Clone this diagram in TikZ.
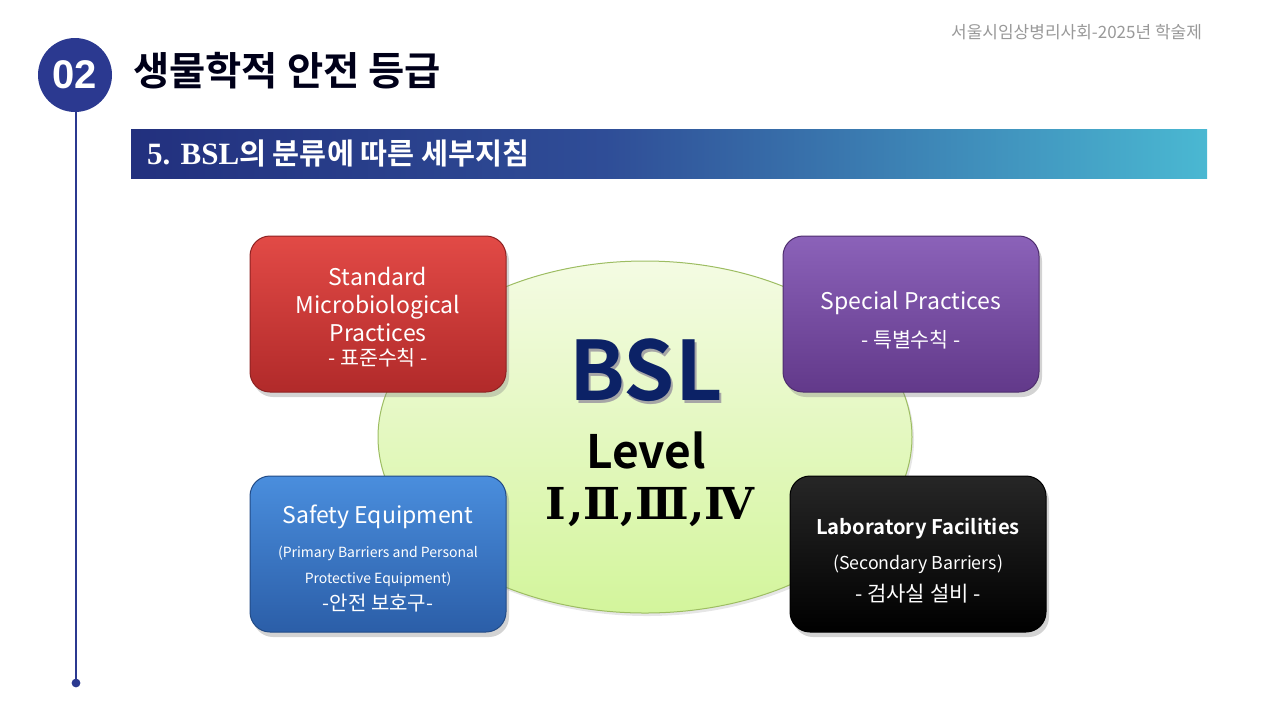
\documentclass[tikz,border=0pt]{standalone}
\usepackage{fontspec}
\setmainfont{Noto Sans CJK KR}[BoldFont={Noto Sans CJK KR Bold}]
\newfontfamily\serifbold{Liberation Serif}[BoldFont={Liberation Serif Bold}]
\newfontfamily\arialfont{Liberation Sans}[BoldFont={Liberation Sans Bold}]
\newfontfamily\romanfont{DejaVu Serif}[BoldFont={DejaVu Serif Bold}]
\usetikzlibrary{shapes.geometric,shadows,positioning}

\definecolor{navy}{HTML}{2B3990}
\definecolor{bandL}{HTML}{22307E}
\definecolor{bandM}{HTML}{2F4D97}
\definecolor{bandR}{HTML}{4AB8D2}
\definecolor{bslblue}{HTML}{0C2266}
\definecolor{redtop}{HTML}{E24A46}
\definecolor{redbot}{HTML}{B12A2A}
\definecolor{viotop}{HTML}{8B62B9}
\definecolor{viobot}{HTML}{62398A}
\definecolor{blutop}{HTML}{4A8EDD}
\definecolor{blubot}{HTML}{2B5EA8}
\definecolor{elltop}{HTML}{F4FBE3}
\definecolor{ellbot}{HTML}{D3F59C}
\definecolor{ellline}{HTML}{9DBD62}
\pgfdeclarehorizontalshading{bandshade}{100bp}{color(0bp)=(bandL); color(25bp)=(bandL);
  color(47bp)=(bandM); color(75bp)=(bandR); color(100bp)=(bandR)}

\newcommand\cardsub{\fontsize{10.3}{12}\selectfont}
\newcommand\cardtiny{\fontsize{7}{10}\selectfont}

\begin{document}
\begin{tikzpicture}[x=0.5pt,y=-0.5pt,
  card/.style={rectangle,rounded corners=10pt,minimum width=128pt,minimum height=78pt,
               line width=.5pt,drop shadow={shadow xshift=1.5pt,shadow yshift=-2.5pt,opacity=.35}},
  cardtext/.style={text=white,align=center,font=\fontsize{11.5}{14}\selectfont},
  redcard/.style={card,draw=redbot!80!black,top color=redtop,bottom color=redbot},
  violetcard/.style={card,draw=viobot!80!black,top color=viotop,bottom color=viobot},
  bluecard/.style={card,draw=blubot!80!black,top color=blutop,bottom color=blubot},
  blackcard/.style={card,draw=black,top color=black!85,bottom color=black}
]
  \useasboundingbox (0,0) rectangle (1280,720);

  % header
  \draw[navy,line width=.8pt] (76,100) -- (76,683);
  \fill[navy] (76,683) circle (2.2pt);
  \node[circle,fill=navy,minimum size=37pt,inner sep=0pt,text=white,
        font=\arialfont\bfseries\fontsize{20}{20}\selectfont] (num) at (75,75) {02};
  \node[anchor=west,font=\bfseries\fontsize{19.7}{22}\selectfont,text=black!90!blue]
        (title) at (126,71) {생물학적 안전 등급};
  \node[anchor=east,text=black!40,font=\fontsize{8.5}{10}\selectfont] (event) at (1209,32)
        {서울시임상병리사회-2025년 학술제};

  % sub title band
  \node[rectangle,minimum width=538pt,minimum height=24.5pt,inner sep=0pt,
        shading=bandshade] (band) at (669,153.5) {};
  \node[anchor=west,text=white,font=\bfseries\fontsize{14.7}{16}\selectfont] (subtitle) at (140,153)
        {{\serifbold\bfseries\fontsize{15.5}{16}\selectfont 5. BSL}의 분류에 따른 세부지침};

  % center ellipse
  \node[ellipse,minimum width=267pt,minimum height=176pt,draw=ellline,line width=.5pt,
        top color=elltop,bottom color=ellbot,
        drop shadow={shadow xshift=1pt,shadow yshift=-1.5pt,opacity=.2}] (core) at (645,437) {};
  \node[text=black!35,font=\bfseries\fontsize{41}{41}\selectfont] (bshadow) at (648,373) {BSL};
  \node[text=bslblue,font=\bfseries\fontsize{41}{41}\selectfont] (bsl) at (646,370) {BSL};
  \node[font=\bfseries\fontsize{23}{23}\selectfont] (level) at (646,450) {Level};
  \node[font=\romanfont\bfseries\fontsize{22}{22}\selectfont] (roman) at (650,507)
        {Ⅰ\kern1pt,Ⅱ,Ⅲ,Ⅳ};

  % cards
  \node[redcard] (standard) at (378,314) {};
  \node[violetcard] (special) at (911,314) {};
  \node[bluecard] (safety) at (378,554) {};
  \node[blackcard] (facility) at (918,554) {};

  \node[cardtext] (standardtxt) at ([yshift=-1.5pt]standard.center)
        {Standard\\Microbiological\\Practices\\[-2pt] \cardsub - 표준수칙 -};
  \node[cardtext] (specialtxt) at ([yshift=-3pt]special.center)
        {Special Practices\\[5pt] \cardsub - 특별수칙 -};
  \node[cardtext] (safetytxt) at ([yshift=-2pt]safety.center)
        {Safety Equipment\\[3pt] \cardtiny (Primary Barriers and Personal\\[-1pt]
         \cardtiny Protective Equipment)\\[-0.5pt] \fontsize{10}{11}\selectfont -안전 보호구-};
  \node[cardtext] (facilitytxt) at ([yshift=-3.3pt]facility.center)
        {\bfseries\fontsize{10.1}{12}\selectfont Laboratory Facilities\\[3.5pt]
         \fontsize{8.9}{11}\selectfont (Secondary Barriers)\\[2pt] \fontsize{10.5}{11}\selectfont - 검사실 설비 -};
\end{tikzpicture}
\end{document}
